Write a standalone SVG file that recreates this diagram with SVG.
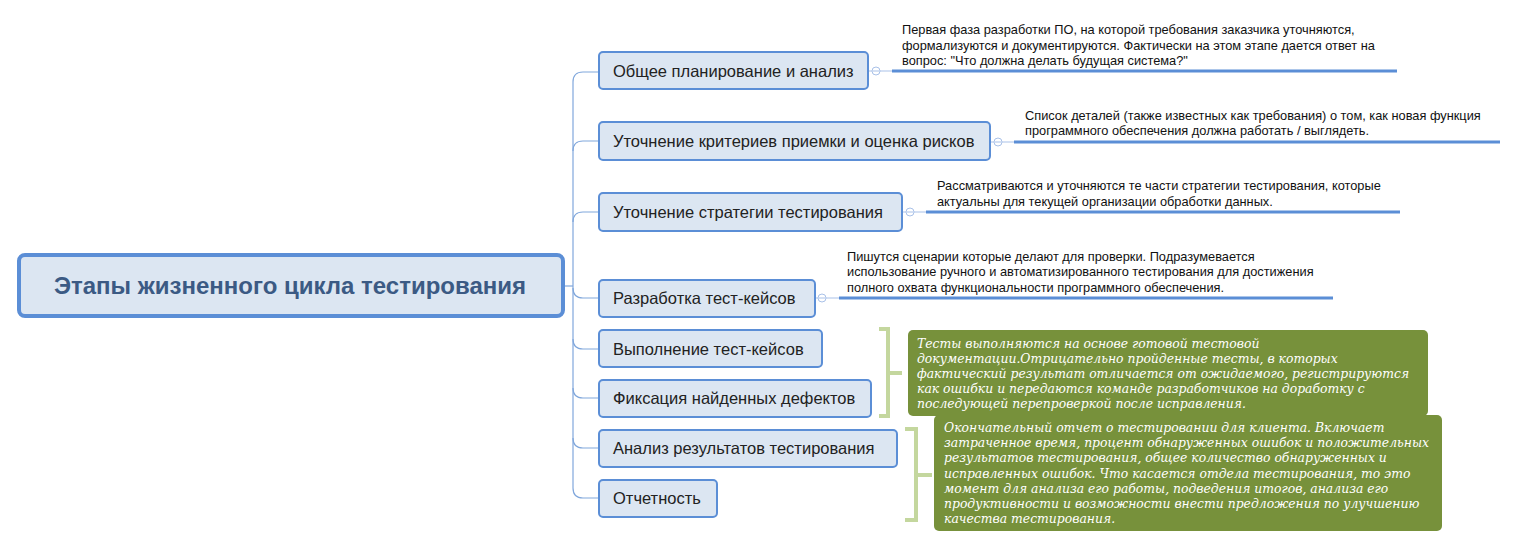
<svg xmlns="http://www.w3.org/2000/svg" width="1517" height="548" viewBox="0 0 1517 548">
<style>
.node rect{fill:#DCE6F2;stroke:#5B8ED6;stroke-width:2}
.node text{font-family:"Liberation Sans",Arial,sans-serif;font-size:16.5px;fill:#222}
.conn{fill:none;stroke:#80A7DC;stroke-width:1.2}
.thick{stroke:#5B8ED6;stroke-width:3}
.thin{stroke:#A9C1E8;stroke-width:1}
.col{fill:#fff;stroke:#A9C1E8;stroke-width:1}
.desc{font-family:"Liberation Sans",Arial,sans-serif;font-size:12.8px;fill:#111}
.note rect{fill:#77913B}
.note text{font-family:"DejaVu Serif",serif;font-style:italic;font-size:12.4px;fill:#fff}
.br{fill:none;stroke:#C4D79E;stroke-width:4}
</style>
<rect width="1517" height="548" fill="#fff"/>
<g id="connectors">
<path class="conn" d="M563,286 H573"/>
<path class="conn" d="M573,82 V488"/>
<path class="conn" d="M573,82 Q573,72 583,72 H599"/>
<path class="conn" d="M573,151 Q573,141 583,141 H599"/>
<path class="conn" d="M573,222 Q573,212 583,212 H599"/>
<path class="conn" d="M573,288 Q573,298 583,298 H599"/>
<path class="conn" d="M573,339 Q573,349 583,349 H599"/>
<path class="conn" d="M573,388 Q573,398 583,398 H599"/>
<path class="conn" d="M573,438 Q573,448 583,448 H599"/>
<path class="conn" d="M573,488 Q573,498 583,498 H599"/>
<g>
<line class="thin" x1="868" y1="71" x2="893" y2="71"/>
<circle class="col" cx="876" cy="71" r="4"/><line class="thin" x1="873" y1="71" x2="879" y2="71"/>
<line class="thick" x1="892" y1="71" x2="1397" y2="71"/>
</g>
<g>
<line class="thin" x1="990" y1="142" x2="1015" y2="142"/>
<circle class="col" cx="998" cy="142" r="4"/><line class="thin" x1="995" y1="142" x2="1001" y2="142"/>
<line class="thick" x1="1014" y1="142" x2="1500" y2="142"/>
</g>
<g>
<line class="thin" x1="902" y1="212" x2="927" y2="212"/>
<circle class="col" cx="910" cy="212" r="4"/><line class="thin" x1="907" y1="212" x2="913" y2="212"/>
<line class="thick" x1="926" y1="212" x2="1400" y2="212"/>
</g>
<g>
<line class="thin" x1="815" y1="298" x2="840" y2="298"/>
<circle class="col" cx="822" cy="298" r="4"/><line class="thin" x1="819" y1="298" x2="825" y2="298"/>
<line class="thick" x1="839" y1="298" x2="1333" y2="298"/>
</g>
<path class="br" d="M879,329 H888 V416 H879 M888,373 H902"/>
<path class="br" d="M905,429 H916 V520 H905 M916,475 H932"/>
</g>
<g id="root">
<rect x="19" y="255" width="544" height="61" rx="6" fill="#DCE6F2" stroke="#5B8ED6" stroke-width="4"/>
<text x="290" y="294" text-anchor="middle" font-family="Liberation Sans,Arial,sans-serif" font-weight="bold" font-size="24" fill="#3B5A84">Этапы жизненного цикла тестирования</text>
</g>
<g id="n1" class="node"><rect x="599" y="52" width="269" height="37" rx="4"/><text x="613" y="77">Общее планирование и анализ</text></g>
<g id="n2" class="node"><rect x="599" y="122" width="391" height="38" rx="4"/><text x="613" y="147">Уточнение критериев приемки и оценка рисков</text></g>
<g id="n3" class="node"><rect x="599" y="193" width="303" height="38" rx="4"/><text x="613" y="218">Уточнение стратегии тестирования</text></g>
<g id="n4" class="node"><rect x="599" y="280" width="216" height="37" rx="4"/><text x="613" y="304">Разработка тест-кейсов</text></g>
<g id="n5" class="node"><rect x="599" y="330" width="223" height="37" rx="4"/><text x="613" y="355">Выполнение тест-кейсов</text></g>
<g id="n6" class="node"><rect x="599" y="380" width="272" height="37" rx="4"/><text x="613" y="404">Фиксация найденных дефектов</text></g>
<g id="n7" class="node"><rect x="599" y="430" width="298" height="37" rx="4"/><text x="613" y="454">Анализ результатов тестирования</text></g>
<g id="n8" class="node"><rect x="599" y="480" width="118" height="37" rx="4"/><text x="613" y="504">Отчетность</text></g>
<g id="d1" class="desc">
<text x="902" y="34">Первая фаза разработки ПО, на которой требования заказчика уточняются,</text>
<text x="902" y="50">формализуются и документируются. Фактически на этом этапе дается ответ на</text>
<text x="902" y="65">вопрос: "Что должна делать будущая система?"</text>
</g>
<g id="d2" class="desc">
<text x="1025" y="120">Список деталей (также известных как требования) о том, как новая функция</text>
<text x="1025" y="135">программного обеспечения должна работать / выглядеть.</text>
</g>
<g id="d3" class="desc">
<text x="937" y="190">Рассматриваются и уточняются те части стратегии тестирования, которые</text>
<text x="937" y="206">актуальны для текущей организации обработки данных.</text>
</g>
<g id="d4" class="desc">
<text x="847" y="261">Пишутся сценарии которые делают для проверки. Подразумевается</text>
<text x="847" y="276">использование ручного и автоматизированного тестирования для достижения</text>
<text x="847" y="292">полного охвата функциональности программного обеспечения.</text>
</g>
<g id="note1" class="note">
<rect x="908" y="330" width="520" height="86" rx="5"/>
<text x="917" y="348">Тесты выполняются на основе готовой тестовой</text>
<text x="917" y="363">документации.Отрицательно пройденные тесты, в которых</text>
<text x="917" y="378">фактический результат отличается от ожидаемого, регистрируются</text>
<text x="917" y="393">как ошибки и передаются команде разработчиков на доработку с</text>
<text x="917" y="408">последующей перепроверкой после исправления.</text>
</g>
<g id="note2" class="note">
<rect x="934" y="415" width="508" height="116" rx="5"/>
<text x="944" y="432">Окончательный отчет о тестировании для клиента. Включает</text>
<text x="944" y="447">затраченное время, процент обнаруженных ошибок и положительных</text>
<text x="944" y="462">результатов тестирования, общее количество обнаруженных и</text>
<text x="944" y="478">исправленных ошибок. Что касается отдела тестирования, то это</text>
<text x="944" y="493">момент для анализа его работы, подведения итогов, анализа его</text>
<text x="944" y="508">продуктивности и возможности внести предложения по улучшению</text>
<text x="944" y="523">качества тестирования.</text>
</g>
</svg>
